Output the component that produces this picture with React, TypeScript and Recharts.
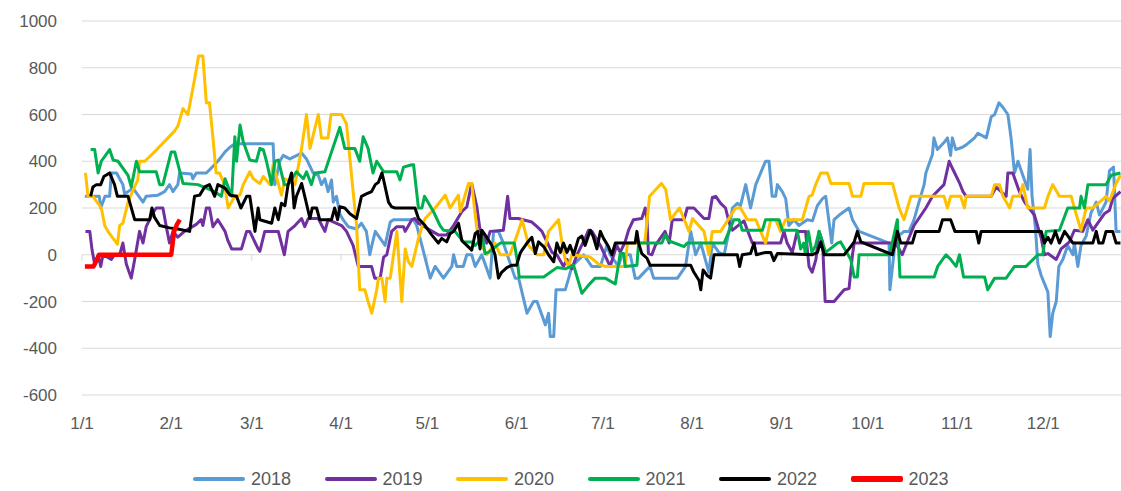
import React from 'react';
import { LineChart, Line, XAxis, YAxis, CartesianGrid, ReferenceLine } from 'recharts';

// x = day of year (1/1 = 0)
const monthTicks = [0, 31, 59, 90, 120, 151, 181, 212, 243, 273, 304, 334];
const monthLabels = ['1/1', '2/1', '3/1', '4/1', '5/1', '6/1', '7/1', '8/1', '9/1', '10/1', '11/1', '12/1'];
const yTicks = [-600, -400, -200, 0, 200, 400, 600, 800, 1000];

const seriesNames = ['2018', '2019', '2020', '2021', '2022', '2023'];
const seriesColors = ['#5B9BD5', '#7030A0', '#FFC000', '#00B050', '#000000', '#FF0000'];

const days2018 = [1, 6, 6.5, 8, 9.6, 10.2, 12, 14.2, 14.8, 17.7, 21.2, 22.3, 26.4, 28.7, 30.4, 31.6, 33.3, 33.9, 38, 38.5, 39.7, 43.2, 47.2, 49.7, 51.4, 53.1, 64.7, 66.4, 67, 68.7, 69.9, 72.2, 76.3, 78, 80.3, 82.1, 83.2, 84.4, 85.5, 86.7, 87.3, 88.4, 89.6, 90.7, 92.5, 95.4, 97.1, 98.8, 100, 100.7, 101.9, 105.3, 107.1, 108.2, 115.2, 116.3, 118.1, 121, 122.7, 125.6, 128.5, 129.1, 130.2, 132.5, 133.7, 135.4, 136.6, 138.9, 141.8, 143, 144.7, 146.4, 150.5, 151.7, 154.6, 156.9, 158.1, 161, 162.1, 162.7, 163.9, 164.7, 167.9, 169.1, 170.2, 174.3, 177.1, 180.1, 182.4, 183.5, 186.4, 187.6, 190.5, 192.2, 193.4, 195.7, 197.4, 198.6, 203.8, 206.9, 209.7, 211.5, 213.2, 215, 217.8, 219, 221.3, 223.1, 224.8, 226, 227.7, 228.8, 230.6, 232.3, 234.1, 235.8, 237.5, 238.7, 239.8, 241, 241.6, 243.3, 244.5, 245.6, 247.4, 249.1, 252, 253.8, 255.5, 257.3, 258.4, 260.5, 261.3, 263.1, 266.5, 267.7, 270, 280.4, 280.7, 282.7, 285.6, 287.4, 289.1, 290.8, 292.6, 293.2, 295.5, 296, 297.2, 299.5, 300.7, 301.8, 302.4, 303.6, 305.9, 307.2, 310.1, 311.3, 314.2, 315.9, 317.1, 318.6, 320, 321.7, 322.8, 324, 325.2, 326.3, 328.6, 329.4, 330.1, 331.3, 332.1, 333.3, 335.6, 336.4, 337.3, 338.5, 339.4, 340.8, 342.5, 344.3, 344.8, 346, 347.1, 348.9, 350.6, 352.4, 353.5, 355.8, 357, 358.4, 359.3, 360.8];
const vals2018 = [250, 250, 200, 250, 250, 350, 350, 300, 260, 285, 225, 250, 255, 270, 300, 270, 300, 350, 345, 325, 350, 350, 400, 440, 460, 475, 475, 475, 300, 400, 425, 410, 435, 410, 350, 340, 300, 325, 270, 320, 225, 250, 175, 150, 120, 110, 135, 100, 0, 40, 100, 40, 140, 150, 150, 125, 40, -100, -50, -100, -50, 0, -50, -50, 0, 0, -50, 0, -100, 100, 100, 50, -100, -100, -250, -200, -200, -300, -250, -350, -350, -150, -150, -100, -50, 0, -50, -50, 40, 0, -50, 0, 0, -100, -100, -70, -50, -100, -100, -100, -50, 100, 0, 50, -75, 50, 10, 0, 100, 200, 220, 210, 300, 200, 300, 350, 400, 400, 250, 250, 300, 270, 240, 125, 150, 125, 150, 145, 210, 240, 250, 50, 150, 170, 200, 150, 100, 50, -150, 70, 100, 100, 150, 225, 300, 350, 430, 500, 450, 480, 500, 425, 500, 450, 460, 470, 500, 520, 500, 590, 600, 650, 630, 600, 500, 350, 400, 360, 280, 450, 250, 110, -40, -90, -160, -350, -250, -200, -50, -20, 40, 0, 50, -50, 40, 80, 180, 225, 170, 225, 360, 375, 100, 100];

const days2019 = [1.2, 2.7, 3.5, 4.4, 5.6, 6.5, 7.3, 10.2, 11.3, 13.1, 14.2, 15.4, 17.1, 18.3, 20, 21.2, 22.3, 24.7, 25.8, 28.1, 29.6, 30.4, 31.6, 33.3, 35.6, 39.7, 41.4, 42, 43.2, 44.3, 45.5, 47.2, 49.7, 50.7, 52, 55.4, 57.2, 58.3, 61.2, 61.8, 63.5, 68.2, 70.3, 71.6, 74, 76.3, 77.4, 78.6, 82.1, 84.4, 85.5, 90.2, 91.9, 94.2, 96, 100.6, 101.7, 103.6, 104.8, 105.9, 107.6, 109.4, 111.7, 112.3, 114.6, 115.7, 116.9, 123.8, 126.7, 129.1, 132, 133.7, 135.4, 137.2, 138.3, 140.6, 141.8, 146.4, 147.9, 148.7, 151.6, 156.3, 158.1, 159.8, 163.3, 165, 167.3, 168.5, 170.2, 172, 174.8, 176, 177.2, 180.1, 183.5, 185.8, 187, 188.7, 189.9, 191.6, 194.5, 195.7, 196.3, 196.8, 198, 199.2, 202.6, 204, 205.1, 209.2, 210.3, 212.6, 216.1, 217.8, 219, 220.2, 221.9, 223.6, 224.8, 226, 230, 231.2, 232.9, 242.7, 243.9, 245, 246.8, 248.5, 251.4, 252.6, 253.7, 255, 256.1, 257.3, 258.2, 261.3, 264.8, 266.5, 267.7, 268.3, 282.7, 285, 287.4, 289.1, 293.2, 295.5, 299.5, 301.3, 302.4, 304.8, 306.1, 307.2, 315.9, 317.6, 321.1, 321.7, 323.4, 325.7, 327.5, 330.9, 333.3, 334.4, 335.6, 338.5, 340.2, 343.1, 344.8, 347.7, 349.5, 351.2, 355.2, 357, 358.1, 360.8];
const vals2019 = [100, 100, 20, -40, 0, -50, 0, -20, 0, 0, 50, -40, -100, -20, 100, 50, 120, 180, 200, 200, 100, 50, 100, 75, 100, 130, 150, 125, 200, 200, 120, 150, 100, 60, 25, 25, 100, 100, 25, 15, 100, 100, 0, 100, 125, 155, 120, 155, 155, 100, 150, 125, 100, 40, -50, -50, -100, -100, -10, 0, 100, 120, 120, 100, 150, 155, 135, 85, 85, 125, 185, 205, 305, 205, 105, 50, 100, 105, 250, 155, 155, 140, 120, 100, 10, 0, -50, -20, -60, 0, 70, 105, 100, 40, -50, 40, 10, 55, 105, 150, 155, 200, 155, 5, 0, 40, 100, 50, 150, 150, 200, 200, 155, 155, 245, 250, 220, 200, 140, 105, 145, 105, 50, 50, 100, 50, 10, 100, 100, -50, -75, -20, 100, 55, -200, -200, -150, -145, 0, 50, 50, 0, 75, 125, 200, 250, 300, 400, 370, 310, 270, 250, 250, 290, 250, 350, 350, 270, 225, 170, 70, 0, 5, -20, 25, 55, 105, 100, 150, 105, 175, 190, 240, 270];

const days2020 = [1.2, 2.1, 3.8, 6.7, 7.9, 9, 12.3, 13.1, 14.2, 16, 17.7, 19.4, 20, 21.8, 25.2, 28.7, 32.2, 33.3, 35.1, 36.8, 39.1, 40.5, 42, 43.2, 44.3, 45.5, 46.6, 47.8, 49.5, 50.8, 53.1, 54.9, 56, 58.3, 59.5, 61.8, 63, 65.3, 66.4, 69.3, 70.5, 74, 76.3, 78, 79.2, 82.1, 83.2, 85.5, 86.5, 90.2, 91.9, 94.2, 95.4, 96.5, 98.3, 99.4, 100.7, 102.4, 103, 104.2, 105.3, 105.9, 107.1, 109.4, 111.1, 112.3, 113.4, 114.6, 116.9, 118.1, 119.2, 122.7, 126.2, 127.9, 130.8, 131.4, 134.3, 135.4, 137.2, 138.9, 140.6, 143.5, 145.3, 148.7, 151.6, 152.9, 155.2, 158.1, 160.4, 162.1, 165.6, 166.7, 167.9, 169.1, 170.2, 176.6, 179.5, 181.8, 188.7, 189.5, 195.5, 197.2, 201.3, 202.8, 204.5, 207.6, 210.9, 212.1, 216.1, 217.8, 219, 221.9, 227.1, 228.8, 231.2, 234.1, 237.5, 239.3, 241, 242.7, 244.5, 250.3, 252.6, 253.7, 254.9, 256.7, 259, 260.2, 266.5, 267.7, 270.6, 271.7, 281.6, 283.9, 285.6, 288, 299.5, 300.7, 301.8, 305.3, 306.6, 307.2, 315.9, 317.1, 318.8, 320, 322.3, 323.4, 325.7, 326.9, 328.6, 334.4, 335.6, 337.3, 339.6, 343.7, 344.8, 347.1, 348.9, 351.2, 355.8, 357, 359.3, 360.8];
const vals2020 = [350, 250, 250, 200, 125, 100, 45, 125, 135, 225, 275, 320, 400, 400, 440, 485, 530, 550, 625, 600, 750, 850, 850, 650, 650, 500, 350, 350, 300, 200, 250, 255, 300, 355, 325, 305, 335, 300, 385, 255, 325, 300, 455, 600, 455, 600, 500, 500, 600, 600, 560, 270, 125, -150, -150, -200, -250, -150, -100, -100, -200, -100, -100, 100, -200, 25, -30, -50, 70, 120, 155, 200, 255, 200, 255, 185, 305, 305, 110, 40, 0, 50, 0, 0, 100, 150, 40, 0, 0, 100, 150, 55, -20, -50, 0, -10, -40, -50, -50, 50, 50, 250, 305, 280, 150, 200, 100, 155, 100, 0, 100, 100, 200, 200, 150, 150, 50, 150, 150, 100, 150, 150, 250, 255, 300, 350, 350, 305, 305, 250, 250, 305, 305, 200, 150, 250, 250, 200, 250, 250, 200, 250, 250, 300, 300, 250, 200, 250, 250, 300, 200, 200, 250, 300, 250, 250, 200, 105, 200, 200, 250, 230, 305, 340];

const days2021 = [3, 4.4, 5.6, 6.7, 9.6, 10.8, 12.5, 16, 17.1, 18.9, 20, 25.8, 27, 28.1, 31, 32.2, 35.1, 40.3, 43.2, 46.1, 48.4, 49.7, 52, 53.1, 53.7, 54.9, 56, 58.3, 60.6, 61.8, 63, 64.1, 65.9, 67, 68.2, 70.3, 71.6, 74.5, 76.9, 78, 79.7, 80.9, 84.4, 86.7, 89.6, 91.3, 94.8, 96.5, 97.7, 99.4, 101.1, 102.4, 104.8, 109.4, 110.5, 111.7, 114.6, 115.2, 116.9, 118.1, 119, 122.1, 124.4, 125.6, 129.6, 132.5, 135.4, 136.6, 137.8, 138.9, 140, 141.2, 145.3, 150.2, 151.3, 151.9, 154, 160.4, 165, 167.9, 170.8, 173.7, 176, 178.3, 181.8, 185.3, 187, 188.2, 188.7, 192.8, 193.4, 201.5, 202.6, 203.8, 209.2, 210.3, 223.1, 224.8, 226.5, 228.3, 229.4, 236.4, 237.5, 242.2, 243.3, 248.5, 249.7, 250.8, 251.3, 252.4, 253.6, 254.9, 256.1, 258.4, 262.5, 263.6, 267.1, 268.3, 269.4, 270, 280.6, 283.3, 284.2, 296.1, 297.3, 300.2, 301.8, 303.7, 304.9, 306.3, 313.6, 314.7, 317.1, 321.1, 324, 328, 332.1, 333.8, 335, 339.6, 342.5, 346.6, 347.1, 348.3, 349.5, 355.8, 357.6, 360.8];
const vals2021 = [450, 450, 350, 400, 450, 405, 400, 340, 290, 400, 355, 355, 300, 300, 440, 440, 305, 300, 285, 270, 250, 325, 250, 505, 400, 555, 485, 405, 400, 455, 450, 400, 300, 400, 405, 300, 300, 355, 325, 355, 300, 350, 355, 440, 545, 455, 455, 400, 505, 455, 350, 400, 355, 355, 320, 375, 385, 385, 200, 200, 250, 185, 125, 105, 100, 55, 55, 40, 55, 100, 5, 10, 50, 50, -30, -95, -95, -95, -55, -60, -45, -165, -130, -100, -100, -125, 5, 5, -50, -45, 50, 50, 85, 60, 35, 50, 50, 100, 150, 150, 105, 105, 150, 150, 105, 105, 25, 50, 5, 100, 10, 40, 100, 10, 50, 55, -20, -95, -95, 0, 0, 150, -95, -95, -50, 0, -20, -50, 0, -95, -95, -150, -100, -100, -50, -50, 0, 0, 100, 105, 200, 200, 250, 200, 300, 300, 340, 350];

const days2022 = [3, 3.8, 5, 6.5, 7.6, 9.6, 11.3, 12.3, 16, 18.3, 23.5, 24.3, 25.2, 27, 30.4, 33.3, 37.4, 39.1, 40.9, 42.6, 44.3, 46.1, 47.2, 49.7, 51.4, 53.7, 55.2, 57.2, 58.3, 60.1, 61.2, 61.8, 65.9, 67, 68.2, 69.3, 70.5, 71.6, 72.8, 73.7, 74.5, 76.3, 77.4, 79.2, 80, 81.5, 82.6, 86.7, 87.8, 88.8, 89.6, 91.3, 93.1, 95.4, 97.1, 98.8, 100.6, 101.9, 103, 104.2, 104.8, 106.5, 107.6, 108.8, 115.7, 116.9, 119.2, 121.5, 123.8, 125, 126.7, 127.9, 129.1, 130.8, 132, 133.7, 135.4, 136.6, 137.5, 138.3, 138.9, 140.6, 142.4, 143.5, 144.7, 145.8, 147.6, 149.3, 151, 152.2, 152.9, 154.6, 156.3, 157.5, 158.6, 160.4, 162.1, 163.9, 165, 166.2, 167.3, 168.5, 169.6, 170.8, 172.5, 173.7, 174.8, 176.6, 177.7, 178.9, 180.1, 181.2, 182.9, 184.1, 185.3, 192.2, 192.8, 193.4, 194.5, 196.3, 197.4, 211.5, 212.6, 214.4, 215, 215.8, 217.3, 218.4, 219.6, 220.2, 227.7, 228.5, 229.4, 232.3, 233.5, 234.3, 237.5, 239.3, 240.4, 241.6, 253.8, 255.5, 256.7, 257.9, 264.8, 266.5, 268.3, 269.4, 270.6, 281.6, 283.3, 284.5, 288.5, 289.7, 297.8, 299, 301.8, 303.3, 310.7, 311.6, 312.4, 333.3, 334.4, 335.6, 336.7, 338.2, 339.6, 341.4, 344.3, 351.2, 352.4, 353.3, 354.7, 355.8, 358.1, 359.3, 360.8];
const vals2022 = [250, 290, 300, 300, 335, 350, 300, 250, 250, 150, 150, 200, 160, 125, 115, 110, 100, 250, 255, 290, 300, 250, 300, 285, 255, 250, 200, 250, 250, 100, 200, 150, 135, 200, 150, 220, 210, 300, 350, 200, 250, 305, 250, 155, 200, 200, 150, 150, 200, 150, 205, 200, 175, 155, 250, 260, 270, 300, 310, 350, 320, 225, 205, 200, 200, 155, 125, 85, 50, 70, 55, 90, 100, 135, 60, 40, 20, 90, 100, 25, 105, 75, 40, 0, -100, -75, -55, -45, -45, 5, 20, 50, 75, 5, 55, 35, 0, -30, 50, 10, 50, 10, 40, 0, 70, 80, 40, 105, 75, 25, 100, 70, 35, 0, 50, 50, 100, 50, 5, -15, -45, -45, -75, -110, -150, -65, -90, -100, 0, 0, 0, -50, 0, 5, 50, 0, 10, 10, -25, 5, 0, 10, 55, 0, 0, 25, 55, 100, 55, 0, 100, 50, 50, 100, 100, 150, 150, 100, 100, 50, 100, 100, 50, 75, 50, 100, 50, 100, 50, 50, 100, 50, 50, 100, 100, 50, 50];

const days2023 = [1, 4, 6, 31, 32, 33, 34];
const vals2023 = [-50, -50, 0, 0, 100, 130, 150];

const seriesDays = [days2018, days2019, days2020, days2021, days2022, days2023];
const seriesVals = [vals2018, vals2019, vals2020, vals2021, vals2022, vals2023];

const toData = (d: number[], v: number[]) => d.map((x, i) => ({ day: x, v: v[i] }));

const FONT = '"Liberation Sans", Arial, sans-serif';
const TEXT = '#595959';
const GRID = '#D9D9D9';

export default function App() {
  return (
    <div style={{ position: 'absolute', left: 0, top: 0, width: 1121, height: 491, background: '#fff', fontFamily: FONT }}>
      <LineChart width={1121} height={491} margin={{ top: 21, right: 0, bottom: 56, left: 0 }}>
        <CartesianGrid horizontal vertical={false} stroke={GRID} strokeWidth={1} />
        <XAxis
          type="number"
          dataKey="day"
          domain={[0, 361]}
          ticks={monthTicks}
          interval={0}
          allowDataOverflow
          tickFormatter={(v: number) => monthLabels[monthTicks.indexOf(v)] ?? ''}
          axisLine={false}
          tickLine={false}
          tickSize={0}
          tickMargin={22}
          height={40}
          tick={{ fill: TEXT, fontSize: 17, fontFamily: FONT }}
        />
        <YAxis
          type="number"
          domain={[-600, 1000]}
          ticks={yTicks}
          interval={0}
          width={82}
          axisLine={false}
          tickLine={false}
          tickSize={0}
          tickMargin={25}
          tick={{ fill: TEXT, fontSize: 17, fontFamily: FONT }}
        />
        {monthTicks.map((t) => (
          <ReferenceLine key={'tk' + t} segment={[{ x: t, y: 0 }, { x: t, y: -25 }]} stroke={GRID} strokeWidth={1} />
        ))}
        {seriesNames.map((name, i) => (
          <Line
            key={name}
            name={name}
            data={toData(seriesDays[i], seriesVals[i])}
            dataKey="v"
            type="linear"
            stroke={seriesColors[i]}
            strokeWidth={name === '2023' ? 4.5 : 3}
            dot={false}
            activeDot={false}
            isAnimationActive={false}
            strokeLinejoin="round"
          />
        ))}
      </LineChart>
      <div style={{ position: 'absolute', left: 193, top: 467, height: 24, display: 'flex', alignItems: 'center' }}>
        {seriesNames.map((name, i) => (
          <div key={name} style={{ width: 131.5, display: 'flex', alignItems: 'center' }}>
            <div style={{ width: 52, height: name === '2023' ? 6 : 4, background: seriesColors[i], borderRadius: 2 }} />
            <span style={{ marginLeft: 6, fontSize: 18, color: TEXT, fontFamily: FONT }}>{name}</span>
          </div>
        ))}
      </div>
    </div>
  );
}
